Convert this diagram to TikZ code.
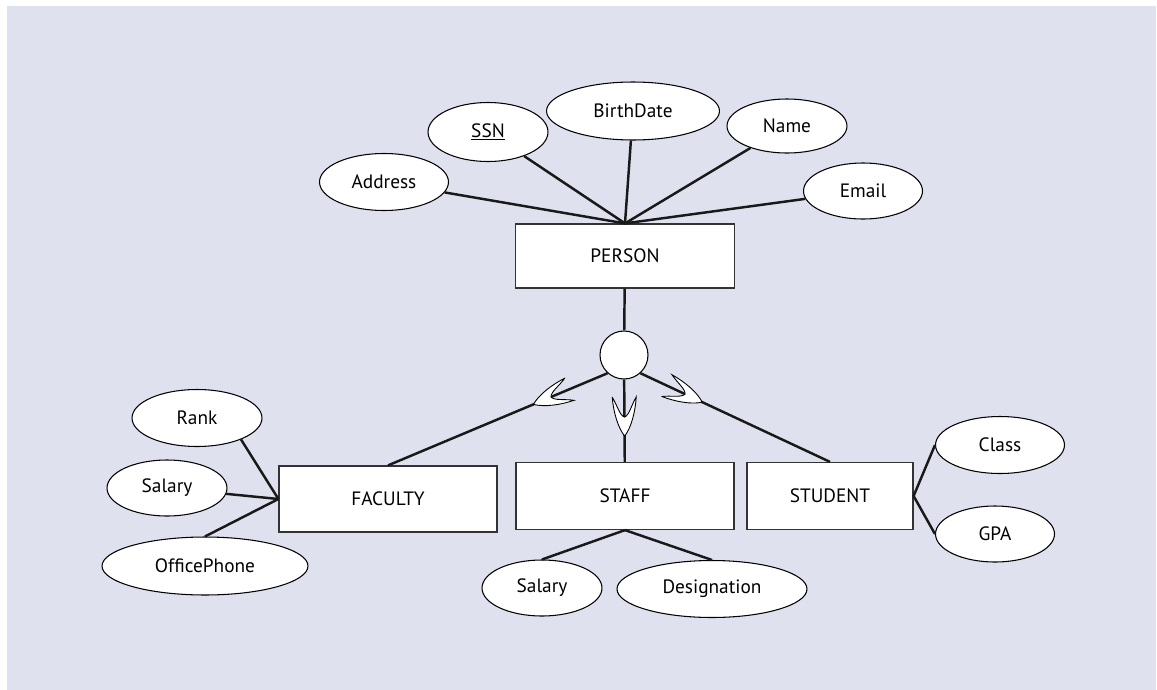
\documentclass[tikz,border=0pt]{standalone}
\usepackage{fontspec}
\setmainfont{PT Sans}
\usetikzlibrary{shapes.geometric}
\definecolor{bgcol}{RGB}{223,225,238}
\begin{document}
\begin{tikzpicture}[x=0.02cm, y=-0.02cm,
    attr/.style={shape=ellipse, draw=black, fill=white, line width=0.6pt, inner sep=0pt, font=\fontsize{11}{13}\selectfont},
    entity/.style={shape=rectangle, draw=black!80, fill=white, line width=0.7pt, inner sep=0pt, font=\fontsize{11}{13}\selectfont},
    link/.style={line width=1.4pt, black!90},
    cup/.pic={\draw[line width=0.5pt, fill=white] (0,12) .. controls (14,11) and (30,7) .. (39,0) .. controls (30,-7) and (14,-11) .. (0,-12) .. controls (8,-7) and (18,-5) .. (20,0) .. controls (18,5) and (8,7) .. cycle;}]
    \useasboundingbox (0,0) rectangle (1157,690);
    \fill[bgcol] (7,6) rectangle (1156,690);

    % entities
    \node[entity, minimum width=4.38cm, minimum height=1.28cm] (person) at (625,256) {PERSON};
    \node[entity, minimum width=4.36cm, minimum height=1.32cm] (fac) at (388,499) {FACULTY};
    \node[entity, minimum width=4.36cm, minimum height=1.34cm] (staff) at (625,496) {STAFF};
    \node[entity, minimum width=3.32cm, minimum height=1.34cm] (stud) at (830,496) {STUDENT};
    \node[shape=circle, draw=black, fill=white, line width=0.6pt, inner sep=0pt, minimum size=0.96cm] (isa) at (624,355) {};

    % attributes of person
    \node[attr, minimum width=2.58cm, minimum height=1.14cm] (addr) at (384,182) {Address};
    \node[attr, minimum width=2.40cm, minimum height=1.18cm] (ssn) at (488,132) {\underline{SSN}};
    \node[attr, minimum width=3.46cm, minimum height=1.16cm] (bdate) at (633,111) {BirthDate};
    \node[attr, minimum width=2.40cm, minimum height=1.08cm] (name) at (787,126) {Name};
    \node[attr, minimum width=2.38cm, minimum height=1.12cm] (email) at (863,191) {Email};

    % attributes of subclasses
    \node[attr, minimum width=2.60cm, minimum height=1.14cm] (rank) at (197,418) {Rank};
    \node[attr, minimum width=2.40cm, minimum height=1.12cm] (fsal) at (167,488) {Salary};
    \node[attr, minimum width=4.12cm, minimum height=1.16cm] (phone) at (205,566) {OfficePhone};
    \node[attr, minimum width=2.40cm, minimum height=1.12cm] (ssal) at (542,588) {Salary};
    \node[attr, minimum width=3.80cm, minimum height=1.14cm] (desig) at (712,589) {Designation};
    \node[attr, minimum width=2.58cm, minimum height=1.14cm] (class) at (1000,445) {Class};
    \node[attr, minimum width=2.38cm, minimum height=1.12cm] (gpa) at (995,534) {GPA};

    \path[link] (addr) edge (person.north);
    \path[link] (ssn) edge (person.north);
    \path[link] (bdate) edge (person.north);
    \path[link] (name) edge (person.north);
    \path[link] (email) edge (person.north);

    \path[link] (person) edge (isa);
    \path[link] (isa.228) edge (fac.north);
    \path[link] (isa) edge (staff);
    \path[link] (isa.-48) edge (stud.north);

    \path (isa.228) -- (fac.north) pic[pos=0.174, sloped, allow upside down] {cup};
    \path (isa.south) -- (staff.north) pic[pos=0.214, sloped, allow upside down] {cup};
    \path (isa.-48) -- (stud.north) pic[pos=0.14, sloped, allow upside down] {cup};

    \path[link] (rank.-26) edge (fac.west);
    \path[link] (fsal) edge (fac.west);
    \path[link] (phone.north) edge (fac.west);
    \path[link] (ssal.north) edge (staff.south);
    \path[link] (desig.north) edge (staff.south);
    \path[link] (class.west) edge (stud.east);
    \path[link] (gpa.west) edge (stud.east);
\end{tikzpicture}
\end{document}
